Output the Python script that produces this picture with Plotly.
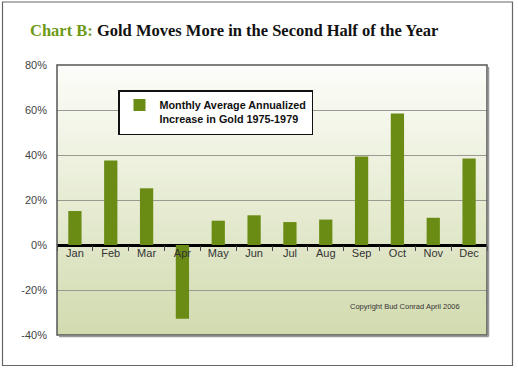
import plotly.graph_objects as go

months = ["Jan", "Feb", "Mar", "Apr", "May", "Jun", "Jul", "Aug", "Sep", "Oct", "Nov", "Dec"]
increase = [15.1, 37.6, 25.2, -32.8, 10.8, 13.2, 10.2, 11.3, 39.3, 58.5, 12.1, 38.5]
y_ticks = [-40, -20, 0, 20, 40, 60, 80]
y_tick_labels = ["-40%", "-20%", "0%", "20%", "40%", "60%", "80%"]
series_name = "Monthly Average Annualized<br>Increase in Gold 1975-1979"

W, H = 518, 370
L, R, T, B = 57, 487, 65, 335
pw, ph = R - L, B - T

def px(x):
    return (x - L) / pw

def py(y):
    return (B - y) / ph

fig = go.Figure()
fig.add_trace(go.Bar(
    x=months, y=increase, name=series_name,
    marker=dict(color="#6b8c14", line=dict(width=0)),
    showlegend=True,
))

shapes = []
# gradient background inside plot area (stacked, overlapping strips -> no seams)
n = 60
top_c = (252, 253, 248)
bot_c = (210, 219, 176)
for i in range(n):
    f = i / (n - 1)
    c = tuple(int(round(top_c[k] + (bot_c[k] - top_c[k]) * f)) for k in range(3))
    shapes.append(dict(type="rect", xref="paper", yref="paper",
                       x0=0, x1=1, y0=0, y1=1 - i / n,
                       fillcolor="rgb(%d,%d,%d)" % c, line=dict(width=0), layer="below"))
# plot border and shadow
shapes.append(dict(type="rect", xref="paper", yref="paper", x0=0, x1=1, y0=0, y1=1,
                   line=dict(color="#555555", width=1.5), fillcolor="rgba(0,0,0,0)", layer="above"))
shapes.append(dict(type="line", xref="paper", yref="paper", x0=px(R + 1.5), x1=px(R + 1.5),
                   y0=py(B + 1.5), y1=py(T + 2), line=dict(color="#999999", width=1.5)))
shapes.append(dict(type="line", xref="paper", yref="paper", x0=px(L + 2), x1=px(R + 1.5),
                   y0=py(B + 1.5), y1=py(B + 1.5), line=dict(color="#999999", width=1.5)))
# outer frame
shapes.append(dict(type="rect", xref="paper", yref="paper", x0=px(2.5), x1=px(512.5), y0=py(365.5), y1=py(2),
                   line=dict(color="#666666", width=1.2), fillcolor="rgba(0,0,0,0)", layer="above"))

fig.update_layout(
    width=W, height=H,
    margin=dict(l=L, r=W - R, t=T, b=H - B),
    paper_bgcolor="white",
    plot_bgcolor="rgba(0,0,0,0)",
    bargap=0.63,
    shapes=shapes,
    font=dict(family="Liberation Sans, Arial", color="#333333"),
    legend=dict(
        x=px(118), y=py(90), xanchor="left", yanchor="top",
        bgcolor="white", bordercolor="#111111", borderwidth=1.5,
        font=dict(family="Liberation Sans, Arial", size=10.8, color="#111111", weight="bold"),
        valign="top", itemwidth=30,
    ),
    xaxis=dict(
        type="category", anchor="free", position=1 / 3,
        showline=False, showgrid=False,
        ticks="outside", tickson="boundaries", ticklen=5, tickwidth=1, tickcolor="#444444",
        tickfont=dict(size=11, color="#333333"),
        range=[-0.5, 11.5],
    ),
    yaxis=dict(
        range=[-40, 80], tickmode="array", tickvals=y_ticks, ticktext=y_tick_labels,
        showgrid=True, gridcolor="#9a9a92", gridwidth=1,
        zeroline=True, zerolinecolor="#000000", zerolinewidth=2.5,
        showline=False, ticks="", ticklabelstandoff=9,
        tickfont=dict(size=11, color="#444444"),
    ),
    annotations=[
        dict(xref="paper", yref="paper", x=px(28), y=py(31), xanchor="left", yanchor="middle",
             showarrow=False,
             text="<span style='color:#6e9a1a'>Chart B:</span> Gold Moves More in the Second Half of the Year",
             font=dict(family="Liberation Serif, serif", size=16.5, color="#111111", weight="bold")),
        dict(xref="paper", yref="paper", x=px(405), y=py(306), xanchor="center", yanchor="middle",
             showarrow=False, text="Copyright Bud Conrad April 2006",
             font=dict(family="Liberation Sans Narrow, Liberation Sans, Arial", size=7.5, color="#333333")),
    ],
)

fig.write_html("out.html", config={"displayModeBar": False},
               post_script="document.body.style.margin='0';document.body.style.padding='0';")
